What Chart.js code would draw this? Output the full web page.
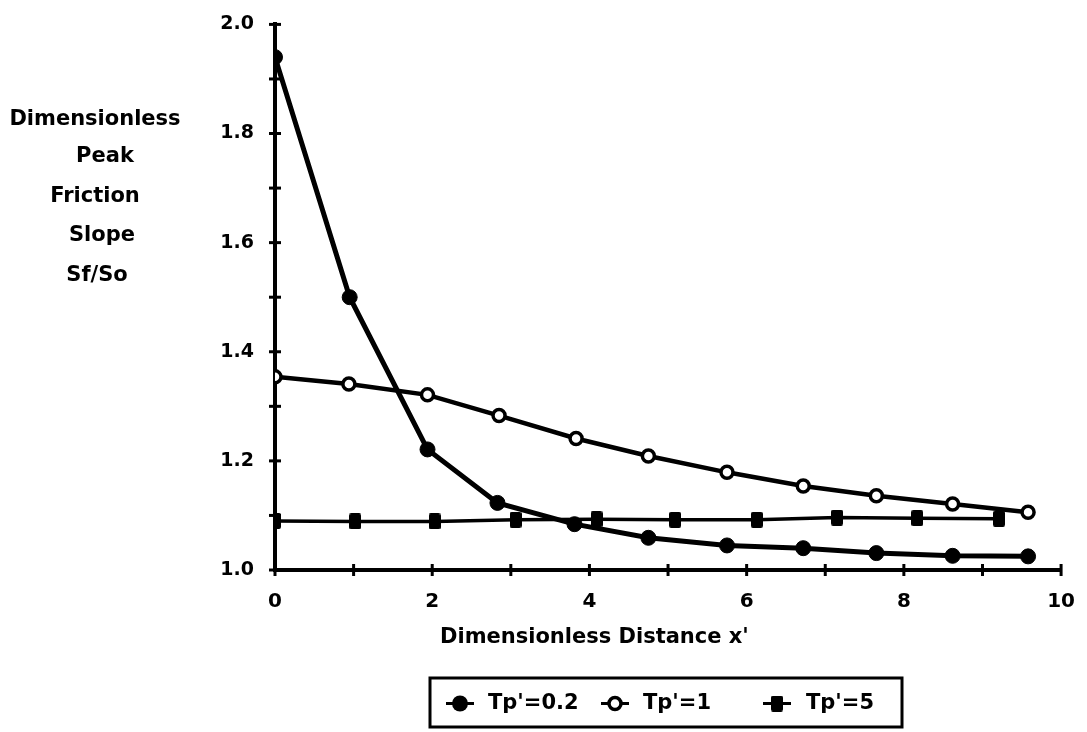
<!DOCTYPE html>
<html>
<head>
<meta charset="utf-8">
<script src="https://cdn.jsdelivr.net/npm/chart.js@4.4.1/dist/chart.umd.min.js"></script>
<style>
  html, body { margin: 0; padding: 0; background: #ffffff; }
  #wrap { width: 1087px; height: 732px; position: relative; }
</style>
</head>
<body>
<div id="wrap"><canvas id="c" width="1087" height="732"></canvas></div>
<script>
// ---- data ----
const seriesNames = ["Tp'=0.2", "Tp'=1", "Tp'=5"];

const tp02X = [0, 0.95, 1.94, 2.83, 3.81, 4.75, 5.75, 6.72, 7.65, 8.62, 9.58];
const tp02Y = [1.940, 1.500, 1.221, 1.123, 1.084, 1.059, 1.045, 1.040, 1.031, 1.026, 1.025];

const tp1X = [0, 0.94, 1.94, 2.85, 3.83, 4.75, 5.75, 6.72, 7.65, 8.62, 9.58];
const tp1Y = [1.354, 1.341, 1.321, 1.283, 1.241, 1.209, 1.179, 1.154, 1.136, 1.121, 1.106];

const tp5X = [0, 1.02, 2.03, 3.06, 4.09, 5.09, 6.13, 7.15, 8.17, 9.21];
const tp5Y = [1.090, 1.089, 1.089, 1.092, 1.093, 1.092, 1.092, 1.096, 1.095, 1.094];

const xTitle = "Dimensionless Distance x'";
const yTitleLines = ["Dimensionless", "Peak", "Friction", "Slope", "Sf/So"];

const xMin = 0, xMax = 10, xStep = 1;
const yMin = 1.0, yMax = 2.0, yStep = 0.1;

function pts(xs, ys) { return xs.map((x, i) => ({ x: x, y: ys[i] })); }

const FONT = "'DejaVu Sans', 'Liberation Sans', Arial, sans-serif";

// tall rounded square marker used by the Tp'=5 series
function makeSquare(w, h) {
  const cv = document.createElement('canvas');
  cv.width = w; cv.height = h;
  const g = cv.getContext('2d');
  g.fillStyle = '#000';
  g.beginPath();
  if (g.roundRect) g.roundRect(0, 0, w, h, 2); else g.rect(0, 0, w, h);
  g.fill();
  return cv;
}
const squareMarker = makeSquare(12, 16);

const datasets = [
  {
    label: seriesNames[0], data: pts(tp02X, tp02Y),
    borderColor: '#000', backgroundColor: '#000', borderWidth: 5,
    pointStyle: 'circle', pointRadius: 7.5, pointBorderWidth: 1,
    pointBackgroundColor: '#000', pointBorderColor: '#000'
  },
  {
    label: seriesNames[1], data: pts(tp1X, tp1Y),
    borderColor: '#000', backgroundColor: '#fff', borderWidth: 4.5,
    pointStyle: 'circle', pointRadius: 6, pointBorderWidth: 3.5,
    pointBackgroundColor: '#fff', pointBorderColor: '#000'
  },
  {
    label: seriesNames[2], data: pts(tp5X, tp5Y),
    borderColor: '#000', backgroundColor: '#000', borderWidth: 3.5,
    pointStyle: squareMarker, pointRadius: 7, pointBorderWidth: 0,
    pointBackgroundColor: '#000', pointBorderColor: '#000'
  }
];

// crossing tick marks on both axes
const crossTicks = {
  id: 'crossTicks',
  afterDraw(chart) {
    const ctx = chart.ctx;
    const xs = chart.scales.x, ys = chart.scales.y;
    const a = chart.chartArea;
    ctx.save();
    ctx.strokeStyle = '#000';
    ctx.lineWidth = 3;
    xs.ticks.forEach(t => {
      const px = xs.getPixelForValue(t.value);
      ctx.beginPath(); ctx.moveTo(px, a.bottom - 6); ctx.lineTo(px, a.bottom + 6); ctx.stroke();
    });
    ys.ticks.forEach(t => {
      const py = ys.getPixelForValue(t.value);
      ctx.beginPath(); ctx.moveTo(a.left - 6, py); ctx.lineTo(a.left + 6, py); ctx.stroke();
    });
    ctx.restore();
  }
};

// titles and legend
const annotate = {
  id: 'annotate',
  afterDraw(chart) {
    const ctx = chart.ctx;
    ctx.save();
    ctx.fillStyle = '#000';
    ctx.font = "bold 21px " + FONT;
    ctx.textBaseline = 'middle';
    // y title (left, stacked lines)
    ctx.textAlign = 'center';
    const yCenters = [95, 105, 95, 102, 97];
    const yRows = [120, 157, 197, 236, 276];
    yTitleLines.forEach((s, i) => ctx.fillText(s, yCenters[i], yRows[i]));
    // x title
    ctx.textAlign = 'left';
    ctx.fillText(xTitle, 440, 638);

    // legend box
    const bx = 430, by = 678, bw = 472, bh = 49;
    ctx.lineWidth = 3;
    ctx.strokeStyle = '#000';
    ctx.strokeRect(bx, by, bw, bh);
    const cy = by + bh / 2 + 1;
    const items = [
      { mx: 460, tx: 488 },
      { mx: 615, tx: 643 },
      { mx: 777, tx: 806 }
    ];
    items.forEach((it, i) => {
      const ds = chart.data.datasets[i];
      ctx.strokeStyle = '#000';
      ctx.lineWidth = 3;
      ctx.beginPath(); ctx.moveTo(it.mx - 14, cy); ctx.lineTo(it.mx + 14, cy); ctx.stroke();
      ctx.fillStyle = '#000';
      ctx.beginPath();
      if (i === 2) {
        ctx.drawImage(ds.pointStyle, it.mx - 6, cy - 8);
      } else if (i === 1) {
        ctx.fillStyle = '#fff';
        ctx.lineWidth = 3.5;
        ctx.arc(it.mx, cy, 6, 0, Math.PI * 2);
        ctx.fill(); ctx.stroke();
      } else {
        ctx.arc(it.mx, cy, 8, 0, Math.PI * 2);
        ctx.fill();
      }
      ctx.fillStyle = '#000';
      ctx.textAlign = 'left';
      ctx.font = "bold 21px " + FONT;
      ctx.fillText(ds.label, it.tx, cy);
    });
    ctx.restore();
  }
};

new Chart(document.getElementById('c'), {
  type: 'scatter',
  data: { datasets: datasets.map(d => Object.assign({ showLine: true, tension: 0, fill: false }, d)) },
  options: {
    responsive: false,
    animation: false,
    devicePixelRatio: 1,
    layout: { padding: { left: 0, right: 24, top: 18, bottom: 0 } },
    plugins: { legend: { display: false }, tooltip: { enabled: false } },
    scales: {
      x: {
        type: 'linear', min: xMin, max: xMax,
        grid: { display: false },
        border: { display: true, color: '#000', width: 4 },
        ticks: {
          stepSize: xStep, color: '#000', padding: 12,
          font: { family: FONT, size: 20, weight: 'bold' },
          maxRotation: 0,
          callback: v => (Math.round(v) % 2 === 0 ? String(Math.round(v)) : '')
        },
        afterFit: s => { s.height = 162; }
      },
      y: {
        type: 'linear', min: yMin, max: yMax,
        grid: { display: false },
        border: { display: true, color: '#000', width: 4 },
        ticks: {
          stepSize: yStep, color: '#000', padding: 13,
          font: { family: FONT, size: 19, weight: 'bold' },
          callback: v => (Math.round(v * 10) % 2 === 0 ? v.toFixed(1) : '')
        },
        afterFit: s => { s.width = 275; }
      }
    }
  },
  plugins: [crossTicks, annotate]
});
</script>
</body>
</html>
